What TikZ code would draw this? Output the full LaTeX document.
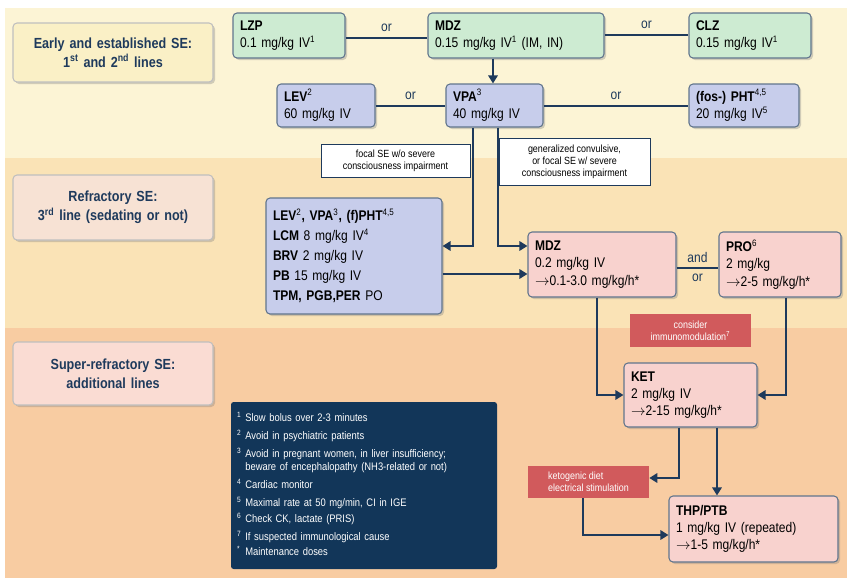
\documentclass[tikz,border=0pt]{standalone}
\usepackage{fontspec}
\setmainfont[FakeStretch=0.86]{Liberation Sans}
\usetikzlibrary{shadows,arrows.meta}
\definecolor{navy}{HTML}{1E3A5C}
\definecolor{bandA}{HTML}{FCF4D5}
\definecolor{bandB}{HTML}{FAE3B6}
\definecolor{bandC}{HTML}{F8CCA2}
\definecolor{grn}{HTML}{CDEBD2}
\definecolor{blu}{HTML}{C7CDEB}
\definecolor{pnk}{HTML}{F8D2CE}
\definecolor{redl}{HTML}{D15A5C}
\definecolor{ylw}{HTML}{FAF0C6}
\definecolor{lp1}{HTML}{F7E2D4}
\definecolor{lp2}{HTML}{FADCD3}
\definecolor{foot}{HTML}{123659}
\newcommand\sps[1]{\textsuperscript{\mdseries\scriptsize #1}}
\newcommand\bx[7]{%
  \pgfmathsetmacro\tw{(#4-#2-14)*0.75}%
  \node[#6, minimum width={(#4-#2)*0.75pt}, minimum height={(#5-#3)*0.75pt},
        text width=\tw pt] (#1) at ({(#2+#4)/2},{(#3+#5)/2}) {#7};}
\begin{document}
\begin{tikzpicture}[x=0.75pt,y=-0.75pt,
  box/.style={draw=navy!70,line width=0.8pt,rounded corners=3pt,inner sep=0pt,
     drop shadow={shadow xshift=1.5pt,shadow yshift=-1.5pt,opacity=0.35},
     align=left,font=\fontsize{10.5}{13}\selectfont},
  side/.style={box,draw=black!25,align=center,font=\fontsize{11}{14}\selectfont\bfseries,text=navy},
  lab/.style={draw=navy,fill=white,inner sep=0pt,align=center,font=\fontsize{7.8}{9}\selectfont},
  red/.style={fill=redl,text=white,inner sep=0pt,align=center,font=\fontsize{7.8}{9}\selectfont},
  ln/.style={navy,line width=1.6pt},
  arr/.style={ln,-{Triangle[length=6pt,width=7pt]}},
  orl/.style={font=\fontsize{10.5}{12}\selectfont,text=navy}]
\useasboundingbox (0,0) rectangle (847,578);
\fill[bandA] (5,8) rectangle (847,158);
\fill[bandB] (5,158) rectangle (847,328);
\fill[bandC] (5,328) rectangle (847,578);
% side labels
\bx{s1}{13}{23}{213}{82}{side,fill=ylw}{Early and established SE:\\1\textsuperscript{st} and 2\textsuperscript{nd} lines}
\bx{s2}{13}{175}{213}{240}{side,fill=lp1}{Refractory SE:\\3\textsuperscript{rd} line (sedating or not)}
\bx{s3}{13}{342}{213}{405}{side,fill=lp2}{Super-refractory SE:\\additional lines}
% first line
\bx{lzp}{233}{13}{345}{58}{box,fill=grn}{\textbf{LZP}\\0.1 mg/kg IV\sps{1}}
\bx{mdz}{428}{13}{604}{58}{box,fill=grn}{\textbf{MDZ}\\0.15 mg/kg IV\sps{1} (IM, IN)}
\bx{clz}{689}{13}{811}{58}{box,fill=grn}{\textbf{CLZ}\\0.15 mg/kg IV\sps{1}}
% second line
\bx{lev}{277}{84}{375}{127}{box,fill=blu}{\textbf{LEV}\sps{2}\\60 mg/kg IV}
\bx{vpa}{446}{84}{543}{127}{box,fill=blu}{\textbf{VPA}\sps{3}\\40 mg/kg IV}
\bx{pht}{689}{84}{799}{127}{box,fill=blu}{\textbf{(fos-) PHT}\sps{4,5}\\20 mg/kg IV\sps{5}}
% labels
\node[lab,minimum width={149*0.75pt},minimum height={33*0.75pt}] (focal) at (395.5,160.5) {focal SE w/o severe\\consciousness impairment};
\node[lab,minimum width={151*0.75pt},minimum height={47*0.75pt}] (gen) at (574.5,161.5) {generalized convulsive,\\or focal SE w/ severe\\consciousness impairment};
% third line
\bx{third}{266}{198}{442}{314}{box,fill=blu}{\textbf{LEV}\sps{2}\textbf{, VPA}\sps{3}\textbf{, (f)PHT}\sps{4,5}\\[2pt]\textbf{LCM} 8 mg/kg IV\sps{4}\\[2pt]\textbf{BRV} 2 mg/kg IV\\[2pt]\textbf{PB} 15 mg/kg IV\\[2pt]\textbf{TPM, PGB,PER} PO}
\bx{mdz2}{528}{232}{676}{297}{box,fill=pnk}{\textbf{MDZ}\\0.2 mg/kg IV\\$\rightarrow$0.1-3.0 mg/kg/h*}
\bx{pro}{719}{232}{841}{297}{box,fill=pnk}{\textbf{PRO}\sps{6}\\2 mg/kg\\$\rightarrow$2-5 mg/kg/h*}
\node[red,minimum width={121*0.75pt},minimum height={33*0.75pt}] (imm) at (690.5,330.5) {consider\\immunomodulation\textsuperscript{7}};
\bx{ket}{624}{363}{757}{427}{box,fill=pnk}{\textbf{KET}\\2 mg/kg IV\\$\rightarrow$2-15 mg/kg/h*}
\node[red,minimum width={121*0.75pt},minimum height={32*0.75pt},align=left] (keto) at (588.5,482) {ketogenic diet\\electrical stimulation};
\bx{thp}{669}{496}{838}{562}{box,fill=pnk}{\textbf{THP/PTB}\\1 mg/kg IV (repeated)\\$\rightarrow$1-5 mg/kg/h*}
% footnotes
\node[fill=foot,text=white,rounded corners=2pt,minimum width={266*0.75pt},minimum height={167*0.75pt},
  text width={254*0.75pt},align=left,inner sep=0pt,font=\fontsize{8.2}{10}\selectfont] (fn) at (364,485.5)
{\begin{tabular}{@{}l@{\hspace{3pt}}l@{}}
\textsuperscript{1}&Slow bolus over 2-3 minutes\\[3.5pt]
\textsuperscript{2}&Avoid in psychiatric patients\\[3.5pt]
\textsuperscript{3}&Avoid in pregnant women, in liver insufficiency;\\
 &beware of encephalopathy (NH3-related or not)\\[3.5pt]
\textsuperscript{4}&Cardiac monitor\\[3.5pt]
\textsuperscript{5}&Maximal rate at 50 mg/min, CI in IGE\\[2pt]
\textsuperscript{6}&Check CK, lactate (PRIS)\\[3.5pt]
\textsuperscript{7}&If suspected immunological cause\\[1pt]
\textsuperscript{*}&Maintenance doses
\end{tabular}};
% connectors
\draw[ln] (lzp.east|-0,38) -- node[orl,above=1pt]{or} (mdz.west|-0,38);
\draw[ln] (mdz.east|-0,35) -- node[orl,above=1pt]{or} (clz.west|-0,35);
\draw[arr] (mdz.south-|493,0) -- (vpa.north-|493,0);
\draw[ln] (lev.east|-0,106) -- node[orl,above=1pt]{or} (vpa.west|-0,106);
\draw[ln] (vpa.east|-0,106) -- node[orl,above=1pt]{or} (pht.west|-0,106);
\coordinate (bl) at (473,246); \coordinate (br) at (498,246);
\draw[arr] (vpa.south-|bl) -- (bl) -- (third.east|-bl);
\draw[arr] (vpa.south-|br) -- (br) -- (mdz2.west|-br);
\draw[arr] (third.east|-0,274) -- (mdz2.west|-0,274);
\draw[ln] (mdz2.east|-0,268) -- node[orl,above=0pt]{and} node[orl,below=0pt]{or} (pro.west|-0,268);
\coordinate (k1) at (597,395); \coordinate (k2) at (786,395);
\draw[arr] (mdz2.south-|k1) -- (k1) -- (ket.west|-k1);
\draw[arr] (pro.south-|k2) -- (k2) -- (ket.east|-k2);
\coordinate (k3) at (679,478);
\draw[arr] (ket.south-|k3) -- (k3) -- (keto.east|-k3);
\draw[arr] (ket.south-|717,0) -- (thp.north-|717,0);
\coordinate (k4) at (583,535);
\draw[arr] (keto.south-|k4) -- (k4) -- (thp.west|-k4);
\end{tikzpicture}
\end{document}
